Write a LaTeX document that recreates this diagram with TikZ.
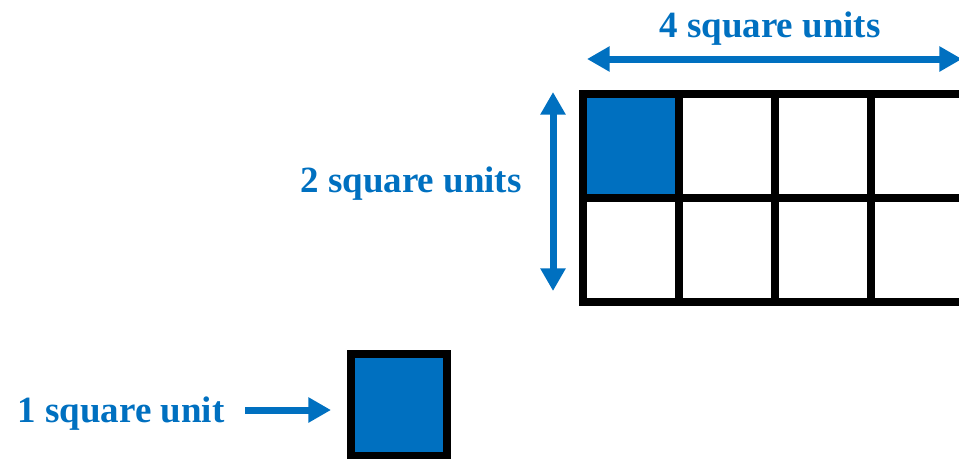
\documentclass[tikz,border=0pt]{standalone}
\usepackage{fontspec}
\setmainfont{Liberation Serif}
\usepackage{xcolor}
\definecolor{unitblue}{HTML}{0070C0}
\usetikzlibrary{positioning,arrows.meta}

\begin{document}
\begin{tikzpicture}[
  x=0.75pt, y=-0.75pt,
  every node/.style={font=\fontsize{27.75pt}{30pt}\selectfont\bfseries},
  cell/.style ={draw=black, line width=6pt, fill=white,
                minimum width=72pt, minimum height=78pt, inner sep=0pt,
                outer sep=0pt},
  unit/.style ={cell, fill=unitblue},
  lbl/.style  ={text=unitblue, anchor=base, inner sep=0pt},
  dim/.style  ={line width=5.25pt, unitblue,
                {Triangle[length=17pt,width=18pt]}-{Triangle[length=17pt,width=18pt]}},
  pointer/.style={line width=5.25pt, unitblue,
                -{Triangle[length=17pt,width=18pt]}}
]
\useasboundingbox (0,0) rectangle (959,458);

%% ---- 4 x 2 grid ---------------------------------------------------
\foreach \c in {1,...,4}{
  \foreach \r in {1,2}{
    \node[cell] (c\r\c) at ({583+48+96*(\c-1)}, {94+52+104*(\r-1)}) {};
  }
}
\node[unit] (c11) at (631,146) {};

%% ---- Width arrow --------------------------------------------------
\coordinate (wl) at (587,59);
\coordinate (wr) at (962,59);
\draw[dim] (wl) -- (wr);
\node[lbl] (wtxt) at (770,37) {4 square units};

%% ---- Height arrow -------------------------------------------------
\coordinate (ht) at (553,92);
\coordinate (hb) at (553,291);
\draw[dim] (ht) -- (hb);
\node[lbl] (htxt) at (411,192) {2 square units};

%% ---- Single unit square --------------------------------------------
\node[unit, minimum height=76.5pt] (one) at (399,405) {};
\node[lbl] (otxt) at (121,422) {1 square unit};
\coordinate (ps) at (245,410);
\draw[pointer, shorten >=15pt] (ps) -- (one.west |- ps);

\end{tikzpicture}
\end{document}
